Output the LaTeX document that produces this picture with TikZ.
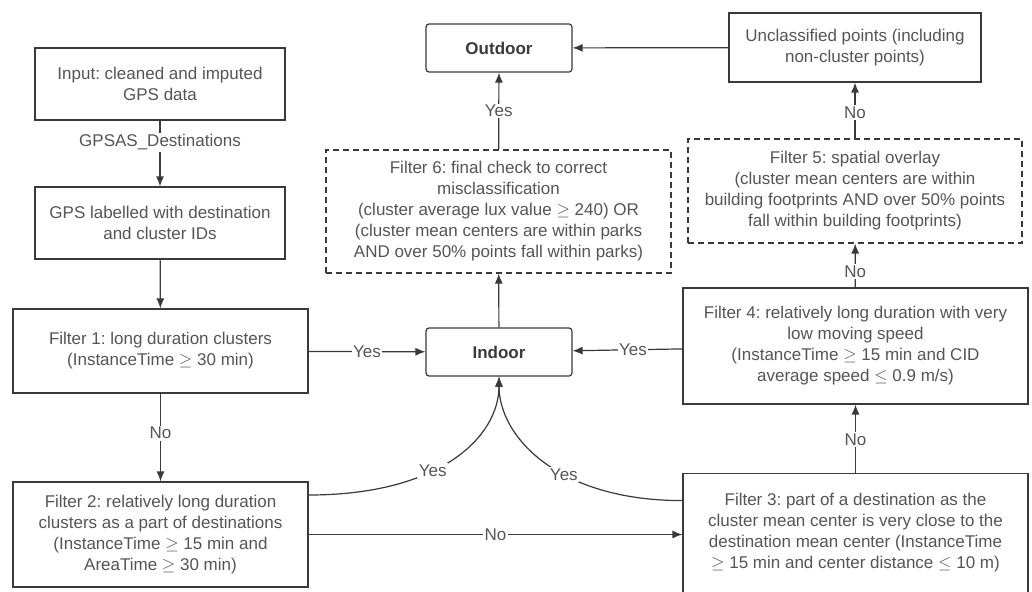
\documentclass[tikz,border=0pt]{standalone}
\usepackage{fontspec}
\setmainfont{Liberation Sans}
\usetikzlibrary{arrows.meta}
\definecolor{tc}{HTML}{555555}
\definecolor{lc}{HTML}{3A3A3A}
\frenchspacing
\begin{document}
\begin{tikzpicture}[x=1pt,y=-1pt,
  font=\fontsize{17}{21}\selectfont,
  box/.style={draw=lc, line width=1.2pt, text=tc, align=center, inner sep=0pt},
  dbox/.style={box, dash pattern=on 6pt off 4pt},
  term/.style={box, rounded corners=3pt, text=lc, font=\fontsize{17}{21}\selectfont\bfseries},
  arr/.style={draw=lc, line width=1.2pt, -{Latex[length=10pt,width=8pt]}},
  lbl/.style={fill=white, text=tc, inner sep=1.5pt}]
\useasboundingbox[fill=white] (0,0) rectangle (1032,591);

\node[box, minimum width=250pt, minimum height=72pt] (in) at (160,84)
  {Input: cleaned and imputed\\GPS data};
\node[box, minimum width=250pt, minimum height=72pt] (gps) at (160,223)
  {GPS labelled with destination\\and cluster IDs};
\node[box, minimum width=295pt, minimum height=84pt] (f1) at (160.5,351)
  {Filter 1: long duration clusters\\(InstanceTime $\geq$ 30 min)};
\node[box, minimum width=295pt, minimum height=105pt] (f2) at (160.5,534.5)
  {Filter 2: relatively long duration\\clusters as a part of destinations\\(InstanceTime $\geq$ 15 min and\\AreaTime $\geq$ 30 min)};
\node[term, minimum width=146pt, minimum height=48pt] (indoor) at (499,352) {Indoor};
\node[term, minimum width=146pt, minimum height=48pt] (outdoor) at (499,48) {Outdoor};
\node[dbox, minimum width=345pt, minimum height=123pt] (f6) at (498.5,211.5)
  {Filter 6: final check to correct\\misclassification\\(cluster average lux value $\geq$ 240) OR\\(cluster mean centers are within parks\\AND over 50\% points fall within parks)};
\node[box, minimum width=252pt, minimum height=69pt] (uncl) at (855,47.5)
  {Unclassified points (including\\non-cluster points)};
\node[dbox, minimum width=334pt, minimum height=104pt] (f5) at (855,191)
  {Filter 5: spatial overlay\\(cluster mean centers are within\\building footprints AND over 50\% points\\fall within building footprints)};
\node[box, minimum width=345pt, minimum height=116pt] (f4) at (855.5,346)
  {Filter 4: relatively long duration with very\\low moving speed\\(InstanceTime $\geq$ 15 min and CID\\average speed $\leq$ 0.9 m/s)};
\node[box, minimum width=345pt, minimum height=136pt, anchor=north] (f3) at (855.5,473)
  {Filter 3: part of a destination as the\\cluster mean center is very close to the\\destination mean center (InstanceTime\\$\geq$ 15 min and center distance $\leq$ 10 m)\\\mbox{}};

\draw[arr] (in) -- (gps) node[lbl, pos=0.33] {GPSAS\_Destinations};
\draw[arr] (gps) -- (f1);
\draw[arr] (f1) -- (f2) node[lbl, pos=0.45] {No};
\draw[arr] (f1) -- (indoor) node[lbl, midway] {Yes};
\draw[arr] (f4) -- (indoor) node[lbl, pos=0.45] {Yes};
\draw[arr] (f2.east) -- (f2.east -| f3.west) node[lbl, midway] {No};
\draw[arr] ([yshift=39.5pt]f2.east) .. controls +(132,0) and +(0,60) .. (indoor.south) node[lbl, pos=0.4] {Yes};
\draw[arr] ([yshift=41pt]f3.west) .. controls +(-125,0) and +(0,60) .. (indoor.south) node[lbl, pos=0.4] {Yes};
\draw[arr] (indoor) -- (f6);
\draw[arr] (f6) -- (outdoor) node[lbl, midway] {Yes};
\draw[arr] (f3) -- (f4) node[lbl, pos=0.49] {No};
\draw[arr] (f4) -- (f5) node[lbl, pos=0.36] {No};
\draw[arr] (f5) -- (uncl) node[lbl, pos=0.46] {No};
\draw[arr] (uncl) -- (outdoor);
\end{tikzpicture}
\end{document}
